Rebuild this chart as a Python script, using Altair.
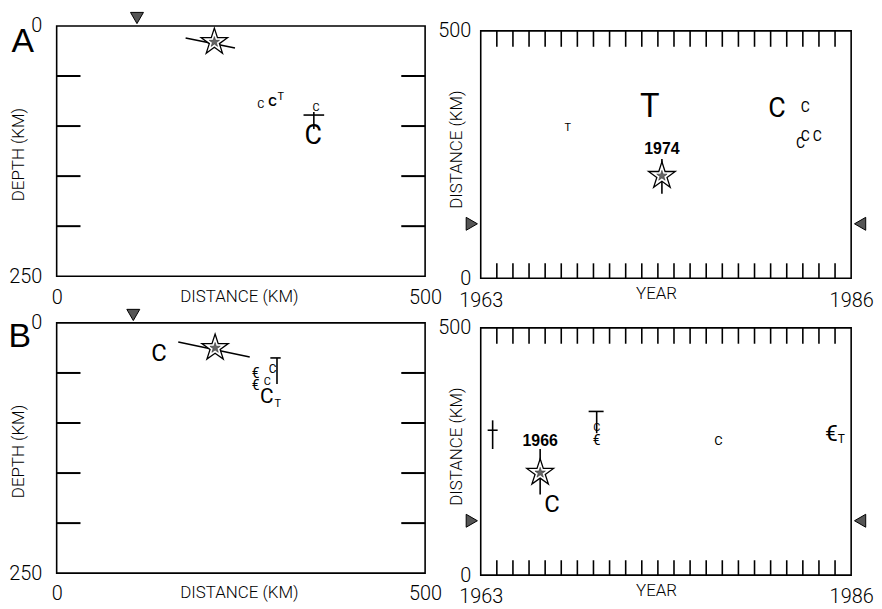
import altair as alt
import pandas as pd

PLOT_FONT = "Roboto, 'Liberation Sans', Arial, sans-serif"
HELV_FONT = "'Liberation Sans', Arial, Helvetica, sans-serif"
STAR = ("M0,-1L0.224,-0.309L0.951,-0.309L0.363,0.118L0.588,0.809L0,0.382"
        "L-0.588,0.809L-0.363,0.118L-0.951,-0.309L-0.224,-0.309Z")

DEPTH_MAX = 250
DIST_MAX = 500
DIST_TOP = 510          # a little headroom above 500 km in the time panels
YEAR_MIN, YEAR_MAX = 1963, 1986
DEPTH_TICKS = [50, 100, 150, 200]
YEAR_TICKS = list(range(1964, 1986))
STATION_DIST = [110]

# panel letters (placed in distance / depth units of the section panels)
LETTERS = ["A", "B"]
LETTER_DIST = [-46, -50]
LETTER_DEPTH = [16, 14]

# ---------------- Panel A : depth section ----------------
A_STATION = [109]
A_STAR_DIST = [214]
A_STAR_DEPTH = [16]
A_SEG_X = [175, 335, 349]
A_SEG_X2 = [242, 363, 349]
A_SEG_Y = [12, 89, 86]
A_SEG_Y2 = [22, 89, 103]
A_TXT = ["C", "C", "T", "C", "C"]
A_TXT_DIST = [277, 293, 304, 352, 348]
A_TXT_DEPTH = [79, 76, 71, 82, 110]
A_TXT_SIZE = [11, 12, 11, 11, 27]
A_TXT_BOLD = [0, 1, 0, 0, 0]

# ---------------- Panel A : distance vs time ----------------
A_T_STAR_YEAR = [1974.25]
A_T_STAR_DIST = [207]
A_T_LABEL = ["1974"]
A_T_LABEL_DIST = [262]
A_T_SEG_YEAR = [1974.25]
A_T_SEG_YEAR2 = [1974.25]
A_T_SEG_D = [171]
A_T_SEG_D2 = [241]
A_T_TXT = ["T", "T", "C", "C", "C", "C", "C"]
A_T_TXT_YEAR = [1968.4, 1973.5, 1981.4, 1983.15, 1983.15, 1983.9, 1982.85]
A_T_TXT_DIST = [303, 347, 343, 345, 285, 285, 271]
A_T_TXT_SIZE = [11, 33, 27, 14, 14, 14, 14]

# ---------------- Panel B : depth section ----------------
B_STATION = [104]
B_STAR_DIST = [215]
B_STAR_DEPTH = [25]
B_SEG_X = [165, 299, 290]
B_SEG_X2 = [262, 299, 304]
B_SEG_Y = [19, 35, 35]
B_SEG_Y2 = [34, 61, 35]
B_TXT = ["C", "C", "€", "€", "C", "C", "T"]
B_TXT_DIST = [139, 293, 270, 270, 286, 285, 300]
B_TXT_DEPTH = [31, 46, 51, 63, 59, 74, 81]
B_TXT_SIZE = [24, 12, 14, 14, 11, 21, 11]
B_TXT_BOLD = [0, 0, 0, 0, 0, 0, 0]

# ---------------- Panel B : distance vs time ----------------
B_T_STAR_YEAR = [1966.69]
B_T_STAR_DIST = [207]
B_T_LABEL = ["1966"]
B_T_LABEL_DIST = [271]
B_T_SEG_YEAR = [1966.69, 1963.74, 1963.43, 1969.7, 1970.2]
B_T_SEG_YEAR2 = [1966.69, 1963.74, 1964.05, 1970.63, 1970.2]
B_T_SEG_D = [163, 255, 293, 331, 287]
B_T_SEG_D2 = [255, 313, 293, 331, 331]
B_T_TXT = ["C", "C", "€", "C", "€", "T"]
B_T_TXT_YEAR = [1967.43, 1970.2, 1970.2, 1977.76, 1984.77, 1985.39]
B_T_TXT_DIST = [141, 297, 271, 271, 285, 275]
B_T_TXT_SIZE = [24, 11, 14, 13, 23, 12]

W_LEFT, H_LEFT = 371, 252
W_RIGHT, H_RIGHT = 373, 254

LABEL_SIZE = 20
TITLE_SIZE = 17


def axis(values, title, **kw):
    return alt.Axis(values=values, format="d", ticks=False, domain=False, grid=False,
                    labelOverlap=False, labelFont=PLOT_FONT, labelFontSize=LABEL_SIZE,
                    labelFontWeight=300, labelColor="black", title=title,
                    titleFont=PLOT_FONT, titleFontSize=TITLE_SIZE, titleFontWeight=300,
                    titleColor="black", titleBaseline="middle", titleAlign="center", **kw)


def depth_panel(idx, station, star_d, star_z, sx, sx2, sy, sy2, txt, td, tz, ts, tb):
    xs = alt.Scale(domain=[0, DIST_MAX], nice=False, zero=False)
    ys = alt.Scale(domain=[0, DEPTH_MAX], reverse=True, nice=False, zero=False)
    xax = axis([0, DIST_MAX], "DISTANCE (KM)", labelFlush=False, labelPadding=11,
               titleX=W_LEFT / 2 - 2, titleY=20)
    yax = axis([0, DEPTH_MAX], "DEPTH (KM)", labelPadding=15,
               titleX=-38, titleY=H_LEFT / 2 + 3, titleAngle=270)

    frame_df = pd.DataFrame({"x": [0], "x2": [DIST_MAX], "y": [0], "y2": [DEPTH_MAX]})
    frame = alt.Chart(frame_df).mark_rect(fill=None, stroke="black", strokeWidth=1.6).encode(
        x=alt.X("x:Q", scale=xs, axis=xax), x2="x2:Q",
        y=alt.Y("y:Q", scale=ys, axis=yax), y2="y2:Q")

    tick_df = pd.DataFrame({"depth": DEPTH_TICKS})
    ticks_l = alt.Chart(tick_df).mark_tick(orient="horizontal", size=24, thickness=2,
                                           color="black", xOffset=12, opacity=1).encode(
        x=alt.datum(0, scale=xs), y=alt.Y("depth:Q", scale=ys))
    ticks_r = alt.Chart(tick_df).mark_tick(orient="horizontal", size=24, thickness=2,
                                           color="black", xOffset=-12, opacity=1).encode(
        x=alt.datum(DIST_MAX, scale=xs), y=alt.Y("depth:Q", scale=ys))

    st_df = pd.DataFrame({"d": station, "z": [0] * len(station)})
    stn = alt.Chart(st_df).mark_point(shape="triangle-down", fill="#555", stroke="black",
                                      strokeWidth=1, size=170, opacity=1, yOffset=-8,
                                      clip=False).encode(
        x=alt.X("d:Q", scale=xs), y=alt.Y("z:Q", scale=ys))

    seg_df = pd.DataFrame({"x": sx, "x2": sx2, "y": sy, "y2": sy2})
    segs = alt.Chart(seg_df).mark_rule(color="black", strokeWidth=1.6).encode(
        x=alt.X("x:Q", scale=xs), x2="x2:Q", y=alt.Y("y:Q", scale=ys), y2="y2:Q")

    star_df = pd.DataFrame({"d": star_d, "z": star_z})
    star = alt.Chart(star_df).mark_point(shape=STAR, fill="white", stroke="black",
                                         strokeWidth=1.3, size=780, opacity=1).encode(
        x=alt.X("d:Q", scale=xs), y=alt.Y("z:Q", scale=ys))
    star_in = alt.Chart(star_df).mark_point(shape=STAR, fill="#666", stroke="#333",
                                            strokeWidth=0.6, size=120, opacity=1).encode(
        x=alt.X("d:Q", scale=xs), y=alt.Y("z:Q", scale=ys))

    t_df = pd.DataFrame({"t": txt, "d": td, "z": tz, "s": ts, "b": tb})
    txt_n = alt.Chart(t_df).transform_filter("datum.b == 0").mark_text(
        font=PLOT_FONT, fontWeight="normal", color="black", align="center",
        baseline="middle").encode(
        x=alt.X("d:Q", scale=xs), y=alt.Y("z:Q", scale=ys),
        text="t:N", size=alt.Size("s:Q", scale=None))
    txt_b = alt.Chart(t_df).transform_filter("datum.b == 1").mark_text(
        font=HELV_FONT, fontWeight="bold", color="black", align="center",
        baseline="middle").encode(
        x=alt.X("d:Q", scale=xs), y=alt.Y("z:Q", scale=ys),
        text="t:N", size=alt.Size("s:Q", scale=None))

    let_df = pd.DataFrame({"t": [LETTERS[idx]], "d": [LETTER_DIST[idx]],
                           "z": [LETTER_DEPTH[idx]]})
    letter = alt.Chart(let_df).mark_text(font=HELV_FONT, fontSize=34, color="black",
                                         align="center", baseline="middle",
                                         clip=False).encode(
        x=alt.X("d:Q", scale=xs), y=alt.Y("z:Q", scale=ys), text="t:N")

    return alt.layer(frame, ticks_l, ticks_r, segs, star, star_in, txt_n, txt_b, stn,
                     letter).properties(width=W_LEFT, height=H_LEFT)


def time_panel(star_y, star_d, label, label_d, sy, sy2, sd, sd2, txt, ty, td, ts):
    xs = alt.Scale(domain=[YEAR_MIN, YEAR_MAX], nice=False, zero=False)
    ys = alt.Scale(domain=[0, DIST_TOP], nice=False, zero=False)
    xax = axis([YEAR_MIN, YEAR_MAX], "YEAR", labelFlush=False, labelPadding=12,
               titleX=W_RIGHT / 2 - 10, titleY=15)
    yax = axis([0, DIST_MAX], "DISTANCE (KM)", labelPadding=10,
               titleX=-24, titleY=124, titleAngle=270)

    frame_df = pd.DataFrame({"x": [YEAR_MIN], "x2": [YEAR_MAX], "y": [0], "y2": [DIST_MAX]})
    frame = alt.Chart(frame_df).mark_rect(fill=None, stroke="black", strokeWidth=1.6).encode(
        x=alt.X("x:Q", scale=xs, axis=xax), x2="x2:Q",
        y=alt.Y("y:Q", scale=ys, axis=yax), y2="y2:Q")

    tick_df = pd.DataFrame({"year": YEAR_TICKS})
    ticks_t = alt.Chart(tick_df).mark_tick(orient="vertical", size=16, thickness=1.6,
                                           color="black", yOffset=8, opacity=1).encode(
        x=alt.X("year:Q", scale=xs), y=alt.datum(DIST_MAX, scale=ys))
    ticks_b = alt.Chart(tick_df).mark_tick(orient="vertical", size=15, thickness=1.6,
                                           color="black", yOffset=-7.5, opacity=1).encode(
        x=alt.X("year:Q", scale=xs), y=alt.datum(0, scale=ys))

    st_df = pd.DataFrame({"d": STATION_DIST})
    stn_l = alt.Chart(st_df).mark_point(shape="triangle-right", fill="#555", stroke="black",
                                        strokeWidth=1, size=170, opacity=1, xOffset=-9,
                                        clip=False).encode(
        x=alt.datum(YEAR_MIN, scale=xs), y=alt.Y("d:Q", scale=ys))
    stn_r = alt.Chart(st_df).mark_point(shape="triangle-left", fill="#555", stroke="black",
                                        strokeWidth=1, size=170, opacity=1, xOffset=9,
                                        clip=False).encode(
        x=alt.datum(YEAR_MAX, scale=xs), y=alt.Y("d:Q", scale=ys))

    seg_df = pd.DataFrame({"x": sy, "x2": sy2, "y": sd, "y2": sd2})
    segs = alt.Chart(seg_df).mark_rule(color="black", strokeWidth=1.6).encode(
        x=alt.X("x:Q", scale=xs), x2="x2:Q", y=alt.Y("y:Q", scale=ys), y2="y2:Q")

    star_df = pd.DataFrame({"y": star_y, "d": star_d, "lab": label, "ld": label_d})
    star = alt.Chart(star_df).mark_point(shape=STAR, fill="white", stroke="black",
                                         strokeWidth=1.3, size=800, opacity=1).encode(
        x=alt.X("y:Q", scale=xs), y=alt.Y("d:Q", scale=ys))
    star_in = alt.Chart(star_df).mark_point(shape=STAR, fill="#666", stroke="#333",
                                            strokeWidth=0.6, size=120, opacity=1).encode(
        x=alt.X("y:Q", scale=xs), y=alt.Y("d:Q", scale=ys))
    lab = alt.Chart(star_df).mark_text(font=HELV_FONT, fontWeight="bold", fontSize=16,
                                       color="black", align="center", baseline="middle").encode(
        x=alt.X("y:Q", scale=xs), y=alt.Y("ld:Q", scale=ys), text="lab:N")

    t_df = pd.DataFrame({"t": txt, "y": ty, "d": td, "s": ts})
    txt_n = alt.Chart(t_df).mark_text(font=PLOT_FONT, fontWeight="normal", color="black",
                                      align="center", baseline="middle").encode(
        x=alt.X("y:Q", scale=xs), y=alt.Y("d:Q", scale=ys),
        text="t:N", size=alt.Size("s:Q", scale=None))

    return alt.layer(frame, ticks_t, ticks_b, segs, star, star_in, lab, txt_n,
                     stn_l, stn_r).properties(width=W_RIGHT, height=H_RIGHT)


a_left = depth_panel(0, A_STATION, A_STAR_DIST, A_STAR_DEPTH, A_SEG_X, A_SEG_X2,
                     A_SEG_Y, A_SEG_Y2, A_TXT, A_TXT_DIST, A_TXT_DEPTH, A_TXT_SIZE, A_TXT_BOLD)
a_right = time_panel(A_T_STAR_YEAR, A_T_STAR_DIST, A_T_LABEL, A_T_LABEL_DIST,
                     A_T_SEG_YEAR, A_T_SEG_YEAR2, A_T_SEG_D, A_T_SEG_D2,
                     A_T_TXT, A_T_TXT_YEAR, A_T_TXT_DIST, A_T_TXT_SIZE)
b_left = depth_panel(1, B_STATION, B_STAR_DIST, B_STAR_DEPTH, B_SEG_X, B_SEG_X2,
                     B_SEG_Y, B_SEG_Y2, B_TXT, B_TXT_DIST, B_TXT_DEPTH, B_TXT_SIZE, B_TXT_BOLD)
b_right = time_panel(B_T_STAR_YEAR, B_T_STAR_DIST, B_T_LABEL, B_T_LABEL_DIST,
                     B_T_SEG_YEAR, B_T_SEG_YEAR2, B_T_SEG_D, B_T_SEG_D2,
                     B_T_TXT, B_T_TXT_YEAR, B_T_TXT_DIST, B_T_TXT_SIZE)

chart = alt.concat(a_left, a_right, b_left, b_right, columns=2,
                   spacing=alt.RowColnumber(row=45, column=56), bounds="flush").configure(
    background="white", padding=0, view=alt.ViewConfig(stroke=None))

chart.save("out.html", embed_options={"renderer": "svg", "actions": False})
